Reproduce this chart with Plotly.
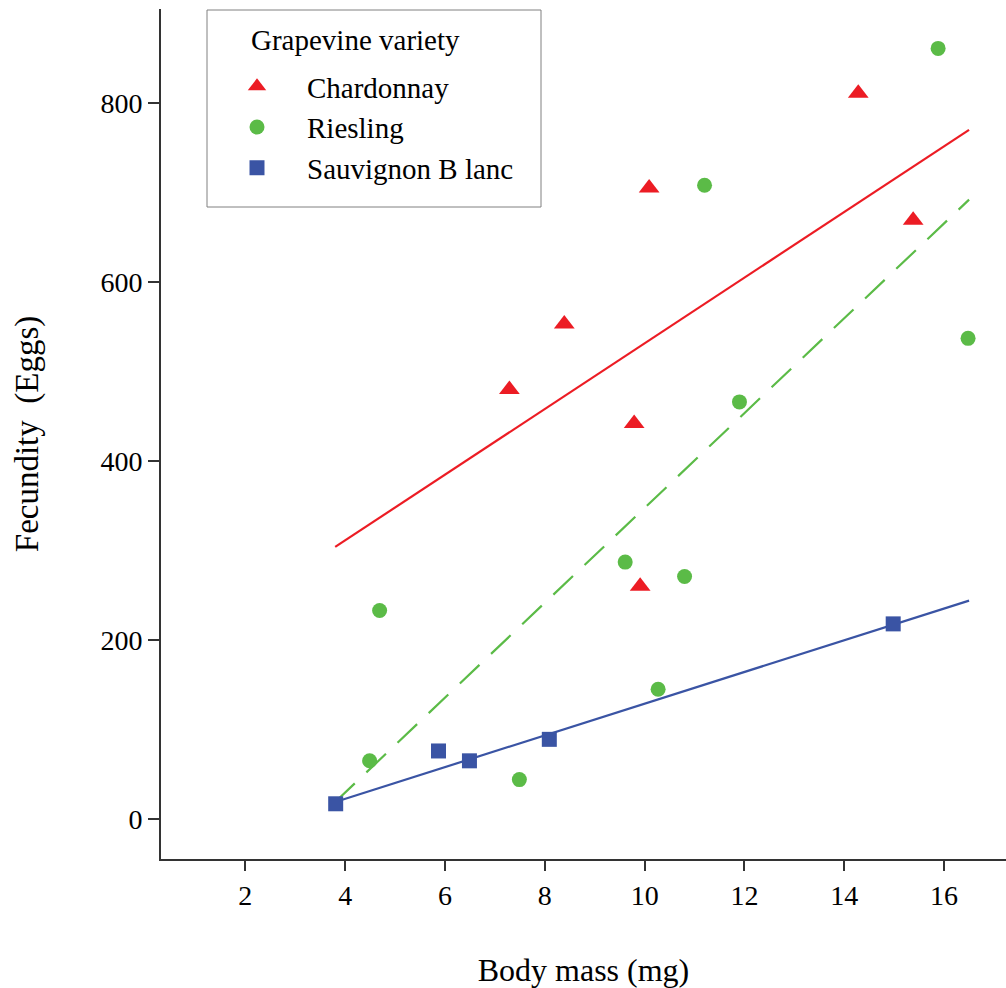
import plotly.graph_objects as go

# Data
chard_x = [7.29, 8.39, 9.79, 9.91, 10.09, 14.28, 15.38]
chard_y = [480, 553, 442, 260, 705, 811, 669]
ries_x = [4.69, 4.49, 7.49, 9.61, 10.27, 10.80, 11.20, 11.90, 15.88, 16.48]
ries_y = [233, 65, 44, 287, 145, 271, 708, 466, 861, 537]
sauv_x = [3.81, 5.87, 6.49, 8.09, 14.98]
sauv_y = [17, 76, 65, 89, 218]

# Fitted line endpoints
fit_x = [3.8, 16.5]
chard_fit = [304, 770]
ries_fit = [19, 692]
sauv_fit = [19, 244]

x_ticks = [2, 4, 6, 8, 10, 12, 14, 16]
y_ticks = [0, 200, 400, 600, 800]

RED = "#ec1c24"
GREEN = "#5bbb47"
BLUE = "#3a54a4"
FONT = "Liberation Serif"

W, H = 1006, 988
ML, MR, MT, MB = 161, 0, 9, 129
PW, PH = W - ML - MR, H - MT - MB


def px_x(p):
    return (p - ML) / PW


def px_y(p):
    return (H - MB - p) / PH


fig = go.Figure()

fig.add_trace(go.Scatter(x=fit_x, y=chard_fit, mode="lines",
                         line=dict(color=RED, width=2.2), showlegend=False, hoverinfo="skip"))
fig.add_trace(go.Scatter(x=fit_x, y=ries_fit, mode="lines",
                         line=dict(color=GREEN, width=2.2, dash="27px,16px"), showlegend=False, hoverinfo="skip"))
fig.add_trace(go.Scatter(x=fit_x, y=sauv_fit, mode="lines",
                         line=dict(color=BLUE, width=2.2), showlegend=False, hoverinfo="skip"))

fig.add_trace(go.Scatter(x=chard_x, y=chard_y, mode="markers", name="Chardonnay",
                         marker=dict(symbol="triangle-up", size=18, color=RED, line=dict(width=0))))
fig.add_trace(go.Scatter(x=ries_x, y=ries_y, mode="markers", name="Riesling",
                         marker=dict(symbol="circle", size=15, color=GREEN, line=dict(width=0))))
fig.add_trace(go.Scatter(x=sauv_x, y=sauv_y, mode="markers", name="Sauvignon B lanc",
                         marker=dict(symbol="square", size=15, color=BLUE, line=dict(width=0))))

# legend box and title
fig.add_shape(type="rect", xref="paper", yref="paper",
              x0=px_x(207), x1=px_x(541), y0=px_y(207), y1=px_y(10),
              line=dict(color="#808080", width=1), fillcolor="white", layer="below")
fig.add_annotation(xref="paper", yref="paper", x=px_x(249), y=px_y(40),
                   xanchor="left", yanchor="middle", showarrow=False,
                   text="Grapevine variety", font=dict(family=FONT, size=29, color="black"))

fig.update_layout(
    width=W, height=H,
    margin=dict(l=ML, r=MR, t=MT, b=MB),
    paper_bgcolor="white", plot_bgcolor="white",
    font=dict(family=FONT, size=28, color="black"),
    legend=dict(
        x=px_x(207), y=px_y(61), xanchor="left", yanchor="top",
        bgcolor="rgba(0,0,0,0)", borderwidth=0,
        font=dict(family=FONT, size=29, color="black"),
        itemwidth=90,
    ),
    xaxis=dict(
        range=[0.31, 17.24], tickvals=x_ticks, ticktext=[str(v) for v in x_ticks],
        showgrid=False, zeroline=False, showline=True, linecolor="#333333", linewidth=2,
        ticks="outside", ticklen=10, tickwidth=2, tickcolor="#333333",
        tickfont=dict(family=FONT, size=28, color="black"),
        title=dict(text="Body mass (mg)", font=dict(family=FONT, size=32, color="black"), standoff=50),
    ),
    yaxis=dict(
        range=[-44.7, 905], tickvals=y_ticks, ticktext=[str(v) for v in y_ticks],
        showgrid=False, zeroline=False, showline=True, linecolor="#333333", linewidth=2,
        ticks="outside", ticklen=11, tickwidth=2, tickcolor="#333333",
        tickfont=dict(family=FONT, size=28, color="black"),
        title=dict(text="Fecundity  (Eggs)", font=dict(family=FONT, size=33, color="black"), standoff=52),
    ),
)

fig.write_html("out.html")
